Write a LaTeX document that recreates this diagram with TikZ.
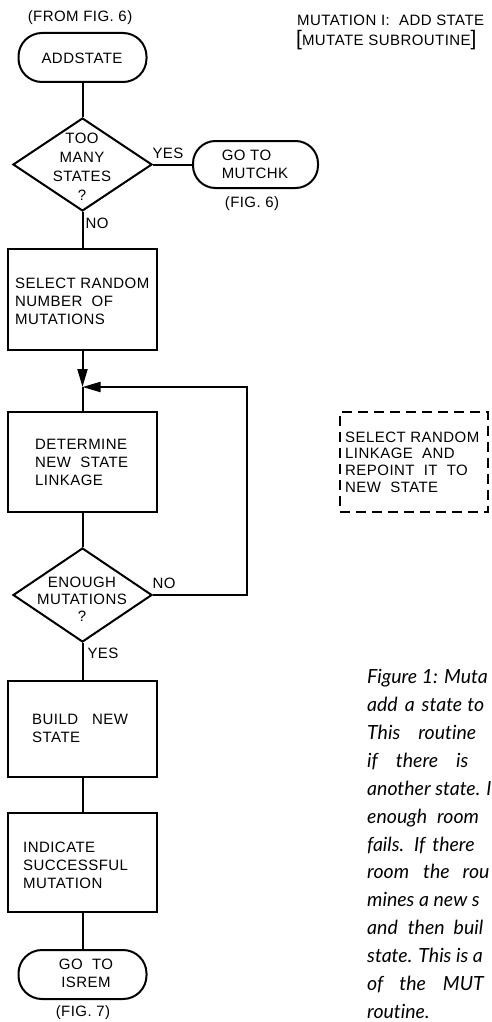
\documentclass[tikz,border=0pt]{standalone}
\usepackage{fontspec}
\setmainfont{Liberation Sans}[LetterSpace=3]
\newfontfamily\capfont{Lato}[Ligatures=NoCommon]
\usetikzlibrary{shapes.geometric,arrows.meta}
\tikzset{
  conn/.style={line width=2pt},
  arr/.style={conn,-{Triangle[length=18pt,width=10pt]}},
  box/.style={draw,line width=2pt,minimum width=149pt,inner sep=0pt},
  term/.style={draw,line width=2pt,rounded corners=23.5pt,minimum width=128pt,minimum height=49pt,inner sep=0pt},
  dec/.style={draw,diamond,line width=2pt,minimum width=139pt,minimum height=93pt,inner sep=0pt},
  lab/.style={font=\fontsize{15}{18}\selectfont,inner sep=0pt,align=left},
  clab/.style={lab,align=center},
  dbox/.style={draw,line width=1.6pt,dash pattern=on 10pt off 6pt,minimum width=148pt,minimum height=100pt,inner sep=0pt},
  capline/.style={font=\capfont\itshape\fontsize{19.5}{20}\selectfont,anchor=base west,inner sep=0pt},
}
\begin{document}
\begin{tikzpicture}[x=1pt,y=-1pt]
\useasboundingbox (0,0) rectangle (491,1022);
% headings
\node[lab] (fromfig) at (80,18) {(FROM FIG. 6)};
\node[lab,anchor=west] (title1) at (297,20) {MUTATION I:\ \ ADD STATE};
\node[lab,anchor=west] (title2) at (296,40) {{\fontsize{21}{21}\selectfont[}MUTATE SUBROUTINE{\fontsize{21}{21}\selectfont]}};
% start
\node[term] (addstate) at (82.5,57.5) {};
\node[clab] (addstatet) at (82,58) {ADDSTATE};
% decision 1
\node[dec] (d1) at (82.5,164.5) {};
\node[clab,font=\fontsize{15}{19}\selectfont] (d1t) at (82,166.5) {TOO\\MANY\\STATES\\?};
\node[lab] (yes1) at (168,153) {YES};
\node[term,minimum width=125pt,minimum height=47pt,rounded corners=22.5pt] (mutchk) at (255.5,164.5) {};
\node[lab] (mutchkt) at (255,164.5) {GO TO\\MUTCHK};
\node[lab] (fig6) at (252,204) {(FIG. 6)};
\node[lab] (no1) at (97,223) {NO};
% select box
\node[box,minimum height=101pt] (select) at (82.5,299.5) {};
\node[lab,anchor=west] (selectt) at (15,301.5) {SELECT RANDOM\\NUMBER\ \ OF\\MUTATIONS};
\coordinate (j) at (82.5,387);
\coordinate (c2) at (247,387);
% determine
\node[box,minimum height=100pt] (determine) at (82.5,462) {};
\node[lab,anchor=west] (dett) at (35,462.5) {DETERMINE\\NEW\ \ STATE\\LINKAGE};
% decision 2
\node[dec,minimum height=94pt] (d2) at (82.5,595) {};
\node[clab,font=\fontsize{15}{17}\selectfont] (d2t) at (82,599) {ENOUGH\\MUTATIONS\\?};
\node[lab] (no2) at (164,583) {NO};
\node[lab] (yes2) at (103,653) {YES};
% build
\node[box,minimum height=96pt] (build) at (82.5,729) {};
\node[lab,anchor=west] (buildt) at (32,728) {BUILD\hspace{14pt}NEW\\STATE};
% indicate
\node[box,minimum height=99pt] (indicate) at (82.5,862.5) {};
\node[lab,anchor=west] (indt) at (23,865) {INDICATE\\SUCCESSFUL\\MUTATION};
% end
\node[term] (isrem) at (82.5,974.5) {};
\node[clab] (isremt) at (86,973) {GO\ \ TO\\ISREM};
\node[lab] (fig7) at (83,1013) {(FIG. 7)};
% dashed note
\node[dbox] (note) at (414,462) {};
\node[lab,font=\fontsize{15}{16.7}\selectfont,anchor=west] (notet) at (345,462) {SELECT RANDOM\\LINKAGE\ \ AND\\REPOINT\ \ IT\ \ TO\\NEW\ \ STATE};
% connectors
\draw[conn] (addstate.south) -- (d1.north);
\draw[conn] (d1.east) -- (mutchk.west);
\draw[conn] (d1.south) -- (select.north);
\draw[arr] (select.south) -- (j);
\draw[conn] (j) -- (determine.north);
\draw[conn] (determine.south) -- (d2.north);
\draw[arr] (d2.east) -| (c2) -- (j);
\draw[conn] (d2.south) -- (build.north);
\draw[conn] (build.south) -- (indicate.north);
\draw[conn] (indicate.south) -- (isrem.north);
% caption
\node[capline] (cap1) at (367,683) {Figure 1: Muta};
\node[capline] (cap2) at (367,711) {add\hspace{7pt}a\hspace{7pt}state\hspace{5pt}to};
\node[capline] (cap3) at (367,739) {This\hspace{18pt}routine};
\node[capline] (cap4) at (367,767) {if\hspace{18pt}there\hspace{18pt}is};
\node[capline] (cap5) at (367,795) {another state. I};
\node[capline] (cap6) at (367,823) {enough\hspace{10pt}room};
\node[capline] (cap7) at (367,851) {fails.\hspace{10pt}If\hspace{7pt}there};
\node[capline] (cap8) at (367,878) {room\hspace{14pt}the\hspace{13pt}rou};
\node[capline] (cap9) at (367,906) {mines a new s};
\node[capline] (cap10) at (367,934) {and\hspace{10pt}then\hspace{9pt}buil};
\node[capline] (cap11) at (367,962) {state. This is a};
\node[capline] (cap12) at (367,990) {of\hspace{16pt}the\hspace{17pt}MUT};
\node[capline] (cap13) at (367,1018) {routine.};
\end{tikzpicture}
\end{document}
